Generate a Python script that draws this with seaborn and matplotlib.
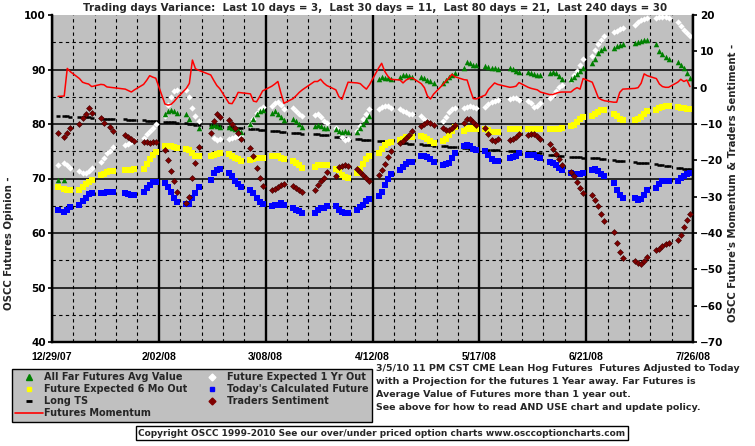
import numpy as np
import pandas as pd
import matplotlib
matplotlib.use('Agg')
import matplotlib.pyplot as plt
from matplotlib.lines import Line2D
import seaborn as sns

nan = np.nan

# CME trading days shown on the chart (weekends and exchange holidays left out)
holidays = ['2008-01-01', '2008-01-21', '2008-02-18', '2008-03-21', '2008-05-26', '2008-07-04']
days = pd.bdate_range('2007-12-31', '2008-07-25', freq='C', holidays=holidays)

# one row per week in every list below
far_futures = [
    69.7, 69.8, nan, nan,
    nan, nan, nan, nan, nan,
    nan, nan, nan, nan, nan,
    nan, nan, nan, nan,
    nan, nan, nan, nan, nan,
    81.8, 82.3, 82.6, 82.4, 82.0,
    81.8, 80.9, nan, nan, 79.3,
    79.6, 79.8, 79.6, 79.4,
    79.4, 79.2, 79.0, 78.9, 78.6,
    80.0, 81.0, 81.8, 82.3, 82.5,
    82.0, 82.3, 81.8, 81.3, 80.7,
    81.0, 80.5, 80.0, 79.5,
    79.6, 79.9, 79.7, 79.3, 79.2,
    79.0, 78.7, 78.6, 78.8, 78.5,
    78.5, 79.2, 80.0, 80.8, 81.5,
    88.3, 88.6, 88.5, 88.4, 88.3,
    88.6, 89.0, 89.0, 88.8, 88.6,
    88.6, 88.4, 88.0, 87.8, 87.6,
    87.5, 88.0, 88.6, 89.0, 89.4,
    90.2, 91.3, 91.2, 90.9, 90.8,
    90.6, 90.4, 90.3, 90.2, 90.1,
    90.2, 90.1, 89.8, 89.5,
    89.6, 89.3, 89.1, 89.0, 89.0,
    89.4, 89.5, 89.3, 88.8, 88.3,
    88.2, 88.6, 89.2, 89.8, 90.3,
    91.2, 92.0, 93.1, 93.6, 93.9,
    94.0, 94.3, 94.5, 94.6,
    94.8, 95.0, 95.2, 95.4, 95.4,
    94.6, 93.4, 92.8, 92.3, 91.9,
    91.3, 90.9, 90.3, 89.4, 88.4,
]

one_year_out = [
    72.5, 72.8, 72.5, 71.9,
    71.3, 71.1, 71.1, 71.3, 71.9,
    73.1, 73.8, 74.6, 75.0, 75.8,
    76.2, 76.4, 76.7, 77.0,
    77.5, 78.1, 78.7, 79.3, 80.0,
    81.5, 83.5, 85.0, 86.0, 86.3,
    86.2, 85.0, 83.0, 81.5, 80.5,
    78.4, 77.4, 77.0, 77.3,
    77.3, 77.5, 77.6, 77.8, 78.0,
    79.8, 81.0, 82.0, 82.8, 83.2,
    83.3, 83.8, 84.0, 83.5, 82.8,
    83.0, 82.4, 81.8, 81.5,
    81.6, 81.8, 81.3, 80.6, 80.2,
    79.3, 78.6, 77.6, 77.0, 77.2,
    78.7, 79.6, 80.9, 81.8, 82.7,
    82.8, 83.1, 83.3, 83.3, 83.0,
    82.8, 82.4, 82.2, 81.9, 81.8,
    81.5, 81.0, 80.6, 80.2, 80.0,
    80.6, 81.3, 82.2, 82.8, 83.0,
    83.0, 83.2, 83.3, 83.2, 83.0,
    83.1, 83.6, 84.0, 84.3, 84.4,
    84.6, 84.8, 84.7, 84.4,
    84.2, 83.8, 83.2, 83.3, 83.8,
    84.7, 85.4, 86.0, 86.7, 87.2,
    88.0, 88.9, 89.8, 90.8, 91.9,
    92.5, 93.5, 94.6, 95.5, 96.2,
    96.8, 97.1, 97.4, 97.6,
    98.2, 98.7, 99.1, 99.3, 99.4,
    99.5, 99.6, 99.7, 99.6, 99.4,
    98.8, 98.0, 97.3, 96.7, 96.1,
]

six_months_out = [
    68.4, 68.0, 67.9, 67.8,
    67.9, 68.5, 68.9, 69.4, 69.7,
    70.6, 70.9, 71.2, 71.3, 71.4,
    71.6, 71.6, 71.6, 71.7,
    71.8, 72.7, 73.6, 74.4, 74.8,
    75.9, 76.0, 75.9, 75.7, 75.6,
    75.4, 75.2, 74.7, 74.2, 74.1,
    74.1, 74.3, 74.5, 74.7,
    74.5, 74.2, 73.8, 73.5, 73.3,
    73.4, 73.5, 73.7, 73.8, 73.8,
    74.2, 74.2, 74.1, 73.8, 73.5,
    73.3, 72.9, 72.4, 71.9,
    72.2, 72.4, 72.5, 72.5, 72.4,
    71.8, 71.5, 70.7, 70.2, 70.1,
    71.0, 71.7, 72.7, 73.6, 74.2,
    74.6, 75.4, 76.2, 76.6, 76.7,
    77.0, 77.3, 77.6, 77.7, 77.7,
    77.8, 77.6, 77.2, 76.8, 76.5,
    76.8, 77.3, 77.9, 78.7, 79.4,
    78.8, 79.1, 79.2, 79.1, 79.0,
    79.1, 78.9, 78.6, 78.5, 78.5,
    79.0, 79.0, 79.0, 79.0,
    79.0, 79.1, 79.1, 79.0, 79.0,
    79.0, 79.0, 79.0, 79.1, 79.2,
    79.6, 79.9, 80.4, 80.9, 81.2,
    81.5, 81.9, 82.2, 82.5, 82.6,
    81.8, 81.4, 81.0, 80.7,
    80.8, 80.9, 81.3, 81.9, 82.4,
    82.6, 82.9, 83.2, 83.3, 83.3,
    83.2, 83.0, 82.9, 82.8, 82.7,
]

todays_future = [
    64.3, 63.9, 64.3, 64.7,
    65.1, 65.8, 66.5, 67.2, 67.3,
    67.3, 67.4, 67.5, 67.6, 67.6,
    67.4, 67.2, 66.9, 66.9,
    67.6, 68.2, 68.8, 69.4, 69.4,
    69.1, 68.5, 67.6, 66.5, 65.7,
    65.4, 65.4, 66.4, 67.3, 68.5,
    69.8, 71.0, 71.6, 71.7,
    71.0, 70.4, 69.6, 69.0, 68.5,
    67.9, 67.3, 66.5, 65.7, 65.4,
    65.0, 65.1, 65.2, 65.5, 65.2,
    64.6, 64.3, 64.0, 63.7,
    63.7, 64.3, 64.5, 64.6, 64.9,
    64.9, 64.3, 63.8, 63.7, 63.7,
    64.3, 64.8, 65.2, 65.8, 66.2,
    66.7, 67.6, 68.8, 70.0, 70.8,
    71.6, 72.1, 72.6, 73.0, 73.1,
    74.1, 74.1, 74.0, 73.6, 73.0,
    72.5, 72.6, 72.8, 73.8, 74.7,
    76.0, 76.2, 75.9, 75.4, 75.3,
    75.0, 74.4, 73.6, 73.3, 73.3,
    73.8, 73.9, 74.1, 74.6,
    74.4, 74.4, 74.3, 74.0, 73.8,
    73.1, 72.8, 72.4, 71.9, 71.5,
    71.0, 70.8, 70.8, 70.9, 71.1,
    71.6, 71.7, 71.3, 70.9, 70.4,
    69.1, 67.8, 67.0, 66.5,
    66.4, 66.0, 66.2, 67.0, 67.8,
    68.3, 69.0, 69.5, 69.6, 69.6,
    69.6, 70.1, 70.4, 70.9, 71.1,
]

long_ts = [
    81.5, 81.4, 81.4, 81.3,
    81.3, 81.3, 81.2, 81.2, 81.1,
    81.1, 81.0, 81.0, 81.0, 80.9,
    80.9, 80.8, 80.8, 80.7,
    80.7, 80.6, 80.6, 80.5, 80.5,
    80.4, 80.4, 80.3, 80.3, 80.2,
    80.1, 80.0, 80.0, 79.9, 79.9,
    79.8, 79.7, 79.6, 79.6,
    79.5, 79.4, 79.3, 79.2, 79.2,
    79.1, 79.1, 79.0, 78.9, 78.9,
    78.8, 78.8, 78.7, 78.6, 78.6,
    78.4, 78.3, 78.3, 78.2,
    78.1, 78.1, 78.0, 77.9, 77.9,
    77.7, 77.6, 77.5, 77.4, 77.3,
    77.3, 77.2, 77.1, 77.0, 77.0,
    76.9, 76.9, 76.8, 76.8, 76.7,
    76.6, 76.5, 76.5, 76.4, 76.4,
    76.3, 76.2, 76.1, 76.1, 76.0,
    75.9, 75.9, 75.8, 75.8, 75.7,
    75.6, 75.6, 75.5, 75.5, 75.4,
    75.4, 75.3, 75.3, 75.2, 75.2,
    75.1, 75.1, 75.0, 75.0,
    74.8, 74.8, 74.7, 74.6, 74.6,
    74.4, 74.4, 74.3, 74.2, 74.2,
    74.0, 74.0, 73.9, 73.9, 73.8,
    73.8, 73.7, 73.7, 73.6, 73.6,
    73.4, 73.3, 73.3, 73.2,
    73.0, 72.9, 72.9, 72.8, 72.8,
    72.6, 72.5, 72.4, 72.3, 72.3,
    72.0, 71.9, 71.8, 71.8, 71.7,
]

# right-hand axis series
traders_sentiment = [
    -12.4, -13.7, -12.4, -11.0,
    -10.0, -8.4, -7.2, -5.5, -6.9,
    -8.3, -9.6, nan, -10.7, -11.8,
    -13.0, -13.5, -14.2, -14.7,
    -14.9, -15.0, -15.1, -15.0, -14.9,
    -17.2, -20.0, -22.8, -25.6, -28.6,
    -31.7, -30.0, -24.9, -20.6, -16.3,
    -12.6, -9.2, -7.3, -8.0,
    -8.9, -10.1, -11.0, -12.6, -14.1,
    -16.6, -18.9, -22.1, -24.9, -27.0,
    -28.1, -28.0, -27.3, -26.8, -26.5,
    -27.0, -27.7, -28.1, -28.6,
    -28.3, -26.8, -25.8, -24.9, -23.1,
    -24.4, -21.7, -21.5, -21.2, -21.5,
    -22.4, -23.3, -24.0, -24.9, -25.6,
    -24.0, -22.6, -21.0, -19.2, -17.5,
    -15.3, -14.6, -13.8, -12.9, -12.0,
    -10.5, -9.9, -9.5, -9.7, -10.4,
    -11.1, -11.7, -11.6, -11.0, -10.4,
    -9.6, -8.6, -8.7, -9.4, -10.3,
    -11.1, -12.8, -14.3, -14.6, -14.2,
    -14.4, -14.1, -13.5, -12.8,
    -13.0, -12.8, -12.7, -13.2, -14.1,
    -15.6, -16.9, -18.3, -19.7, -21.2,
    -23.1, -24.4, -26.0, -27.7, -29.1,
    -29.6, -30.8, -32.6, -34.9, -36.8,
    -39.8, -42.8, -45.1, -46.8,
    -47.6, -48.3, -48.5, -47.7, -46.5,
    -44.8, -44.4, -43.7, -43.0, -42.8,
    -42.0, -40.5, -38.3, -36.3, -34.9,
]

futures_momentum = [
    -2.4, -2.3, 5.3, 4.4,
    2.5, 1.5, 1.2, 1.0, 0.3,
    0.9, 0.8, 0.2, 0.1, 0.0,
    -0.4, -0.8, -1.2, -0.6,
    0.9, 2.0, 3.3, 2.9, 2.6,
    -4.5, -4.8, -4.6, -3.8, -2.8,
    -0.2, 1.2, 7.6, 5.2, 4.8,
    3.5, 2.0, 0.6, -0.3,
    -4.3, -4.4, -3.0, -1.3, -1.4,
    -1.7, -3.7, -3.9, -2.5, -0.9,
    0.4, 1.0, 1.7, -1.5, -4.3,
    -3.0, -2.2, -1.3, -0.6,
    1.7, 1.7, 2.3, 1.3, 0.6,
    -0.6, -2.5, -3.2, -0.8, 1.5,
    1.3, 1.1, 0.3, -0.4, 0.8,
    5.4, 6.7, 4.5, 3.2, 2.3,
    2.1, 1.3, 2.1, 2.5, 2.7,
    1.1, 0.0, -2.3, -3.1, -1.8,
    0.8, 1.8, 2.6, 3.7, 3.0,
    2.2, 2.1, -0.6, -3.0, -3.1,
    -2.0, -0.5, 0.4, 1.3, 0.9,
    0.1, 0.2, 0.4, 1.4,
    0.1, -0.2, -0.4, -0.6, -1.2,
    -1.9, -1.9, -1.6, -1.3, -1.2,
    -1.2, -0.5, 0.0, -0.4, 2.5,
    1.5, -0.6, -2.8, -3.3, -3.6,
    -4.0, -4.0, -1.3, -0.4,
    -0.2, 0.0, 1.2, 3.8, 3.3,
    2.5, 1.0, 0.3, 0.1, 0.1,
    1.5, 2.3, 1.7, 2.1, 0.3,
]

x_tick_dates = ['2007-12-29', '2008-02-02', '2008-03-08', '2008-04-12',
                '2008-05-17', '2008-06-21', '2008-07-26']
x_tick_labels = ['12/29/07', '2/02/08', '3/08/08', '4/12/08', '5/17/08', '6/21/08', '7/26/08']
left_ticks = [40, 50, 60, 70, 80, 90, 100]
right_ticks = [-70, -60, -50, -40, -30, -20, -10, 0, 10, 20]

title = ('Trading days Variance:  Last 10 days = 3,  Last 30 days = 11,  '
         'Last 80 days = 21,  Last 240 days = 30')
note = ('3/5/10 11 PM CST CME Lean Hog Futures  Futures Adjusted to Today\n'
        'with a Projection for the futures 1 Year away. Far Futures is\n'
        'Average Value of Futures more than 1 year out.\n'
        'See above for how to read AND USE chart and update policy.')
copyright_text = 'Copyright OSCC 1999-2010 See our over/under priced option charts www.osccoptioncharts.com'

df = pd.DataFrame({
    'date': days,
    'far': far_futures,
    'one_year': one_year_out,
    'six_month': six_months_out,
    'today': todays_future,
    'long_ts': long_ts,
    'sentiment': traders_sentiment,
    'momentum': futures_momentum,
})

sns.set_style('white')
plt.rcParams['font.family'] = ['DejaVu Sans']
plt.rcParams['font.weight'] = 'bold'
plt.rcParams['axes.labelweight'] = 'bold'

fig = plt.figure(figsize=(7.55, 4.46), dpi=100)
ax = fig.add_axes([52 / 755, 104 / 446, 641 / 755, 327 / 446])
ax.set_facecolor('#c0c0c0')
ax2 = ax.twinx()

# left axis series
sns.scatterplot(data=df, x='date', y='long_ts', marker='_', color='black', s=12,
                linewidth=1.8, ax=ax, legend=False, zorder=3)
sns.scatterplot(data=df, x='date', y='today', marker='s', color='#0000ff', s=13,
                linewidth=0, ax=ax, legend=False, zorder=3)
sns.scatterplot(data=df, x='date', y='six_month', marker='s', color='#ffff00', s=13,
                linewidth=0, ax=ax, legend=False, zorder=3)
sns.scatterplot(data=df, x='date', y='one_year', marker='D', color='white', s=10,
                linewidth=0, ax=ax, legend=False, zorder=3)
sns.scatterplot(data=df, x='date', y='far', marker='^', color='#008000', s=16,
                linewidth=0, ax=ax, legend=False, zorder=3)

# right axis series
sns.scatterplot(data=df, x='date', y='sentiment', marker='D', color='#800000', s=9,
                edgecolor='#3a0000', linewidth=0.4, ax=ax2, legend=False, zorder=3)
sns.lineplot(data=df, x='date', y='momentum', color='#ff0000', lw=1.1,
             estimator=None, ax=ax2, legend=False, zorder=4)

start, end = pd.Timestamp(x_tick_dates[0]), pd.Timestamp(x_tick_dates[-1])
ax.set_xlim(start, end)
ax.set_ylim(40, 100)
ax2.set_ylim(-70, 20)

ax.set_xticks(pd.to_datetime(x_tick_dates))
ax.set_xticklabels(x_tick_labels, fontsize=7.6, family='Liberation Sans', weight='bold')
ax.set_xticks(pd.date_range(start, end, freq='7D'), minor=True)
ax.set_yticks(left_ticks)
ax.set_yticks(range(45, 100, 10), minor=True)
ax2.set_yticks(right_ticks)

dash = (0, (3, 3))
ax.set_axisbelow(True)
ax.xaxis.grid(True, which='major', color='black', lw=1.7)
ax.xaxis.grid(True, which='minor', color='black', lw=0.8, ls=dash)
ax.yaxis.grid(True, which='major', color='black', lw=1.1)
ax.yaxis.grid(True, which='minor', color='black', lw=0.8, ls=dash)
ax.yaxis.get_major_ticks()[-1].gridline.set_visible(False)

for a in (ax, ax2):
    a.spines['top'].set_visible(False)
    for side in ('left', 'right', 'bottom'):
        a.spines[side].set_color('black')
        a.spines[side].set_linewidth(1.6)
    a.set_xlabel('')

ax.tick_params(axis='y', which='major', direction='out', length=3, width=1.2,
               colors='black', labelsize=7.5, pad=1.5)
ax.tick_params(axis='x', which='major', direction='out', length=3, width=1.2,
               colors='black', pad=4)
ax.tick_params(which='minor', length=0)
ax2.tick_params(axis='y', direction='out', length=3, width=1.2, pad=2,
                colors='black', labelsize=7.5)

ax.set_ylabel('OSCC Futures Opinion -', fontsize=7.3, weight='bold')
ax.yaxis.set_label_coords(-0.059, 0.303)
ax2.set_ylabel("OSCC Future's Momentum & Traders Sentiment -", fontsize=7.3,
               weight='bold', rotation=90)
ax2.yaxis.set_label_coords(1.055, 0.485)

fig.text(0.497, 1 - 8 / 446, title, ha='center', va='center', fontsize=7.4,
         weight='bold')

handles = [
    Line2D([], [], ls='none', marker='^', color='#008000', markersize=4.5),
    Line2D([], [], ls='none', marker='s', color='#ffff00', markersize=3.5),
    Line2D([], [], ls='none', marker='_', color='black', markersize=4.5, mew=2),
    Line2D([], [], color='#ff0000', lw=1.2),
    Line2D([], [], ls='none', marker='D', color='white', markersize=3.5),
    Line2D([], [], ls='none', marker='s', color='#0000ff', markersize=3.5),
    Line2D([], [], ls='none', marker='D', color='#800000', markersize=3.5),
]
labels = ['All Far Futures Avg Value', 'Future Expected 6 Mo Out', 'Long TS',
          'Futures Momentum', 'Future Expected 1 Yr Out', "Today's Calculated Future",
          'Traders Sentiment']
leg = fig.legend(handles, labels, ncol=2, loc='upper left',
                 bbox_to_anchor=(12 / 755, 1 - 369 / 446), fontsize=7.0,
                 frameon=True, fancybox=False, facecolor='#c0c0c0',
                 edgecolor='black', framealpha=1, handlelength=2.8,
                 handletextpad=0.1, columnspacing=1.2, borderpad=0.35,
                 labelspacing=0.2, borderaxespad=0)
leg.get_frame().set_linewidth(1.0)

fig.text(376 / 755, 1 - 364 / 446, note, ha='left', va='top', fontsize=6.8,
         weight='bold', linespacing=1.55)
fig.text(382 / 755, 1 - 433 / 446, copyright_text, ha='center', va='center',
         fontsize=6.5, weight='bold',
         bbox=dict(boxstyle='square,pad=0.3', fc='white', ec='black', lw=1))

fig.savefig('out.png', dpi=100)
